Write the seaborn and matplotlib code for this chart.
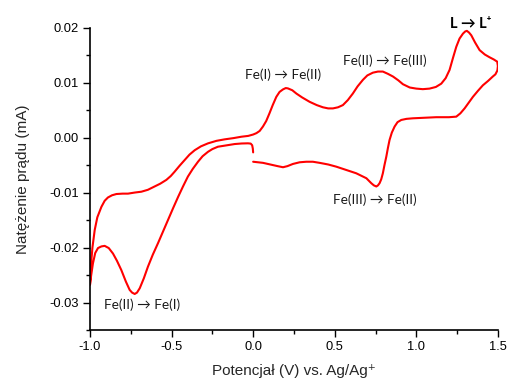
import numpy as np
import pandas as pd
import matplotlib
matplotlib.use("Agg")
import matplotlib.pyplot as plt
from matplotlib.ticker import MultipleLocator
import seaborn as sns

# Cathodic sweep: 0.0 V -> -1.0 V
cathodic_v = [0.000, -0.002, -0.006, -0.015, -0.032, -0.070, -0.113, -0.160, -0.216, -0.250,
              -0.277, -0.310, -0.338, -0.370, -0.400, -0.430, -0.460, -0.490, -0.522, -0.553,
              -0.583, -0.615, -0.645, -0.670, -0.695, -0.712, -0.726, -0.742, -0.757, -0.780,
              -0.808, -0.835, -0.859, -0.885, -0.910, -0.930, -0.951, -0.968, -0.982, -0.993, -1.000]
cathodic_i = [-0.0027, -0.0020, -0.0014, -0.0011, -0.00105, -0.00108, -0.00118, -0.0014, -0.00167, -0.0021,
              -0.0026, -0.0034, -0.0044, -0.0057, -0.0071, -0.0089, -0.0108, -0.0128, -0.0150, -0.0171,
              -0.0192, -0.0213, -0.0235, -0.0256, -0.0274, -0.0282, -0.02845, -0.0282, -0.0277, -0.0262,
              -0.0241, -0.0224, -0.0211, -0.0201, -0.0197, -0.0198, -0.0201, -0.0210, -0.0229, -0.0251, -0.0268]

# Anodic sweep: -1.0 V -> 1.5 V
anodic_v = [-0.995, -0.985, -0.971, -0.955, -0.930, -0.910, -0.890, -0.865, -0.838, -0.800,
            -0.767, -0.725, -0.685, -0.645, -0.604, -0.570, -0.532, -0.505, -0.481, -0.450,
            -0.420, -0.390, -0.358, -0.320, -0.277, -0.225, -0.175, -0.120, -0.072, -0.030,
            0.000, 0.020, 0.040, 0.060, 0.080, 0.100, 0.120, 0.142, 0.162, 0.183,
            0.200, 0.213, 0.240, 0.265, 0.300, 0.346, 0.390, 0.428, 0.460, 0.489,
            0.520, 0.550, 0.580, 0.611, 0.640, 0.673, 0.700, 0.734, 0.765, 0.795,
            0.825, 0.857, 0.890, 0.918, 0.960, 1.000, 1.040, 1.081, 1.120, 1.153,
            1.180, 1.204, 1.225, 1.245, 1.265, 1.286, 1.300, 1.310, 1.323, 1.337,
            1.360, 1.388, 1.420, 1.449, 1.475, 1.496, 1.500]
anodic_i = [-0.0235, -0.0200, -0.0168, -0.0145, -0.0126, -0.0115, -0.0109, -0.0105, -0.01027, -0.0102,
            -0.0102, -0.0100, -0.00985, -0.0095, -0.0089, -0.0084, -0.0077, -0.0070, -0.0062, -0.0051,
            -0.0041, -0.0031, -0.0023, -0.0016, -0.00106, -0.0006, -0.00033, -0.0001, 0.00015, 0.0003,
            0.00055, 0.0008, 0.0012, 0.0020, 0.0030, 0.0044, 0.0059, 0.0074, 0.0083, 0.00876,
            0.0090, 0.00894, 0.0086, 0.0080, 0.0073, 0.0065, 0.0059, 0.0055, 0.0053, 0.0053,
            0.0055, 0.0059, 0.0068, 0.0080, 0.0093, 0.0105, 0.0113, 0.0118, 0.0120, 0.0120,
            0.0116, 0.0111, 0.0104, 0.0097, 0.0091, 0.0089, 0.0088, 0.0089, 0.0092, 0.0098,
            0.0108, 0.0123, 0.0145, 0.0165, 0.0180, 0.0189, 0.0193, 0.0194, 0.0191, 0.0186,
            0.0173, 0.0159, 0.0151, 0.0146, 0.0142, 0.0138, 0.0130]

# Return sweep: 1.5 V -> 0.0 V
return_v = [1.497, 1.485, 1.469, 1.440, 1.408, 1.378, 1.347, 1.320, 1.296, 1.270,
            1.245, 1.200, 1.122, 1.050, 0.979, 0.940, 0.908, 0.885, 0.867, 0.850,
            0.836, 0.826, 0.816, 0.805, 0.795, 0.785, 0.775, 0.765, 0.755, 0.740,
            0.724, 0.694, 0.660, 0.632, 0.570, 0.510, 0.460, 0.407, 0.366, 0.326,
            0.285, 0.244, 0.210, 0.183, 0.150, 0.121, 0.090, 0.060, 0.030, 0.000]
return_i = [0.0122, 0.0115, 0.0111, 0.0103, 0.0095, 0.0085, 0.0074, 0.0063, 0.0053, 0.0044,
            0.0038, 0.0037, 0.0037, 0.0036, 0.0035, 0.0034, 0.0032, 0.0028, 0.0020, 0.0009,
            -0.00045, -0.0019, -0.0035, -0.0050, -0.0065, -0.0076, -0.0083, -0.0087, -0.0089, -0.0087,
            -0.0083, -0.0074, -0.0069, -0.0065, -0.0059, -0.0053, -0.0049, -0.0046, -0.0044, -0.0044,
            -0.0045, -0.0048, -0.0052, -0.0054, -0.0052, -0.0050, -0.0048, -0.0046, -0.0045, -0.0044]

# Peak annotations: (text, potential, current)
peak_labels = ["Fe(I) \u2192 Fe(II)", "Fe(II) \u2192 Fe(III)", "Fe(III) \u2192 Fe(II)", "Fe(II) \u2192 Fe(I)"]
peak_label_v = [0.185, 0.805, 0.745, -0.68]
peak_label_i = [0.0114, 0.0139, -0.0113, -0.0304]

x_ticks = [-1.0, -0.5, 0.0, 0.5, 1.0, 1.5]
y_ticks = [-0.03, -0.02, -0.01, 0.00, 0.01, 0.02]

cv = pd.DataFrame({
    "E": cathodic_v + anodic_v + return_v,
    "I": cathodic_i + anodic_i + return_i,
})

sns.set_style("ticks")
plt.rcParams["font.family"] = ["Liberation Sans", "DejaVu Sans"]

fig = plt.figure(figsize=(5.07, 3.83), dpi=100)
ax = fig.add_axes([0.1775, 0.1384, 0.8045, 0.7896])

sns.lineplot(data=cv, x="E", y="I", sort=False, estimator=None, color="#ff0000",
             linewidth=1.5, ax=ax)
ax.lines[0].set_solid_joinstyle("round")
ax.lines[0].set_solid_capstyle("round")

ax.set_xlim(-1.0, 1.5)
ax.set_ylim(-0.035, 0.02)
ax.set_xticks(x_ticks)
ax.set_yticks(y_ticks)
ax.set_xticklabels([f"{v:.1f}" for v in x_ticks])
ax.set_yticklabels([f"{v:.2f}" for v in y_ticks])
ax.xaxis.set_minor_locator(MultipleLocator(0.25))
ax.yaxis.set_minor_locator(MultipleLocator(0.005))
ax.tick_params(which="major", direction="out", length=5, width=1, labelsize=9.3, colors="black",
               pad=3)
ax.tick_params(which="minor", direction="out", length=3, width=1, colors="black")
sns.despine(ax=ax)
for s in ("left", "bottom"):
    ax.spines[s].set_linewidth(1.2)
    ax.spines[s].set_color("black")

ax.set_xlabel("Potencjał (V) vs. Ag/Ag\u207a", fontsize=11, labelpad=8)
ax.set_ylabel("Natężenie prądu (mA)", fontsize=11, labelpad=14)

ann_font = ["Lato", "DejaVu Sans"]
for txt, v, i in zip(peak_labels, peak_label_v, peak_label_i):
    ax.text(v, i, txt, ha="center", va="center", fontsize=9.8, family=ann_font, color="#1a1a1a")
ax.text(1.335, 0.0206, "L \u2192 L\u207a", ha="center", va="center", fontsize=10.5,
        fontweight="bold", family=ann_font, color="black", clip_on=False)

fig.savefig("out.png", dpi=100)
